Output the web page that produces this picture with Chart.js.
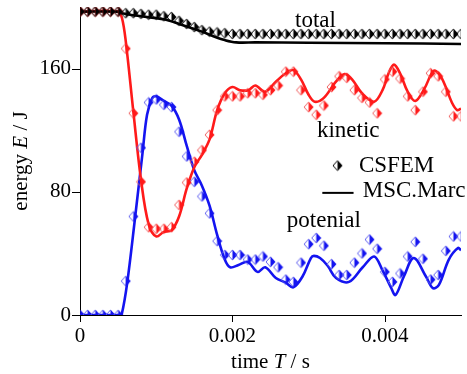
<!DOCTYPE html>
<html><head><meta charset="utf-8">
<script src="https://cdn.jsdelivr.net/npm/chart.js@4/dist/chart.umd.min.js"></script>
<style>html,body{margin:0;padding:0;background:#fff;}#wrap{width:467px;height:374px;position:relative;}</style>
</head><body><div id="wrap"><canvas id="c"></canvas></div>
<script>
// ---- data (time in ms, energy in J) ----
const markerTimeMs = [0,0.1,0.2,0.3,0.4,0.5,0.6,0.7,0.8,0.9,1.0,1.1,1.2,1.3,1.4,1.5,1.6,1.7,1.8,1.9,
  2.0,2.1,2.2,2.3,2.4,2.5,2.6,2.7,2.8,2.9,3.0,3.1,3.2,3.3,3.4,3.5,3.6,3.7,3.8,3.9,
  4.0,4.1,4.2,4.3,4.4,4.5,4.6,4.7,4.8,4.9,5.0];
const kineticCSFEM = [197,197,197,197,197,197,173,131,86.5,57,56,56,57,71.5,86,99.5,107,117,133,142,
  142,142,144,144,143,146,149,158,158,146,135,130,136,148,155,154,146,141,138,131,
  153,158,153.5,142,133,145,157,155,145,129,129];
const potentialCSFEM = [0,0,0,0,0,0,22,64,108.6,138,140,136.5,135,119,103,86.5,77,66,48,39,
  39,39,36,36,38,34.5,31,23,21.5,34,46,50,45,33,26,26,34,40,49,43,
  28,21.5,27,38,47.5,36.5,23,26,41.6,51,51];
const totalCSFEM = [197,197,197,197,197,197,196,196,195.5,195,195,194,193.5,191,189,187,185,184,183.5,183,
  182.5,182.5,182.5,182.5,182.5,182.5,182.5,182.5,182.5,182.5,182.5,182.5,182.5,182.5,182.5,182.5,182.5,182.5,182.5,182.5,
  182.5,182.5,182.5,182.5,182.5,182.5,182.5,182.5,182.5,182.5,182.5];

const kineticMarcTimeMs = [0,0.5,0.55,0.6,0.7,0.8,0.9,1.0,1.1,1.2,1.3,1.4,1.5,1.6,1.7,1.8,1.9,2.0,2.1,2.21,2.3,2.43,2.57,2.7,2.8,2.9,3.0,3.08,3.2,3.35,3.47,3.57,3.7,3.86,3.97,4.05,4.12,4.2,4.3,4.4,4.52,4.64,4.72,4.8,4.88,4.95,5.0];
const kineticMarc = [197,197,193,178,132,88,59,51,54,55,64,82,96,104,114,133,144,148,146,146,149,145,151.5,157,159,153,143,138.5,141,151,156.5,153,144,138.5,146,157,162.6,157,145,139,147,158.5,156,148,138,133,134];

const potentialMarcTimeMs = [0,0.52,0.55,0.62,0.72,0.82,0.88,0.95,1.0,1.1,1.2,1.3,1.4,1.5,1.6,1.7,1.8,1.9,1.97,2.08,2.2,2.33,2.43,2.57,2.7,2.8,2.92,3.03,3.07,3.15,3.25,3.36,3.53,3.71,3.86,3.97,4.08,4.14,4.25,4.38,4.54,4.63,4.71,4.84,4.96,5.0];
const potentialMarc = [0,0,1,21,62,105,130,141,142,139,136,127,110,94,84,71,52,36,31,32.5,34.5,28,31,24,21,18,25,37,38.4,37,32,24,21.5,31,38,29,18,13,25,37,25,17.5,19.5,36,43.5,42];

const totalMarcTimeMs = [0,0.5,0.55,0.8,1.1,1.3,1.6,1.75,1.9,2.05,2.3,3.0,4.0,5.0];
const totalMarc = [197,197,196,194,192,189,184,181,178.5,177,177,176.8,176.5,176];

const yTickLabels = [0,80,160];
const xTickLabels = [0,0.002,0.004];

// ---- helpers ----
const pts = (ts, vs) => ts.map((t,i)=>({x:t/1000, y:vs[i]}));
function makeMarker(fill, outline){
  const c=document.createElement('canvas'); c.width=11; c.height=12;
  const g=c.getContext('2d');
  g.lineWidth=1; g.strokeStyle=outline;
  g.beginPath(); g.moveTo(5.5,1); g.lineTo(1,6); g.lineTo(5.5,11); g.stroke();
  g.fillStyle=fill; g.beginPath(); g.moveTo(5.5,0.5); g.lineTo(10.5,6); g.lineTo(5.5,11.5); g.closePath(); g.fill();
  return c;
}
const RED='#ff1a1a', BLUE='#1414f0', BLACK='#000';
const mRed=makeMarker(RED,'#f06060'), mBlue=makeMarker(BLUE,'#6060f0'), mBlack=makeMarker(BLACK,'#000');

const SERIF='"Liberation Serif","Times New Roman",serif';
Chart.defaults.font.family = SERIF;

const near = (v, arr) => arr.some(a=>Math.abs(a-v)<1e-9);

const axisPlugin = {
  id:'axisDeco',
  afterDraw(chart){
    const ctx=chart.ctx, xs=chart.scales.x, ys=chart.scales.y, ca=chart.chartArea;
    ctx.save();
    ctx.strokeStyle='#000'; ctx.lineWidth=1;
    ys.ticks.forEach(t=>{
      const py=Math.round(ys.getPixelForValue(t.value))+0.5;
      const len=near(t.value,yTickLabels)?8:4.5;
      ctx.beginPath(); ctx.moveTo(ca.left,py); ctx.lineTo(ca.left-len,py); ctx.stroke();
    });
    xs.ticks.forEach(t=>{
      const px=Math.round(xs.getPixelForValue(t.value))+0.5;
      const len=near(t.value,xTickLabels)?7:5;
      ctx.beginPath(); ctx.moveTo(px,ca.bottom); ctx.lineTo(px,ca.bottom+len); ctx.stroke();
    });
    ctx.fillStyle='#000';
    const f=21;
    const parts=[['time ',false],['T',true],[' / s',false]];
    let w=0; parts.forEach(p=>{ctx.font=(p[1]?'italic ':'')+f+'px '+SERIF; w+=ctx.measureText(p[0]).width;});
    let x0=(ca.left+ca.right)/2-w/2; ctx.textBaseline='alphabetic'; ctx.textAlign='left';
    parts.forEach(p=>{ctx.font=(p[1]?'italic ':'')+f+'px '+SERIF; ctx.fillText(p[0],x0,368); x0+=ctx.measureText(p[0]).width;});
    const yparts=[['energy ',false],['E',true],[' / J',false]];
    w=0; yparts.forEach(p=>{ctx.font=(p[1]?'italic ':'')+f+'px '+SERIF; w+=ctx.measureText(p[0]).width;});
    ctx.save(); ctx.translate(27,(ca.top+ca.bottom)/2); ctx.rotate(-Math.PI/2);
    let y0=-w/2;
    yparts.forEach(p=>{ctx.font=(p[1]?'italic ':'')+f+'px '+SERIF; ctx.fillText(p[0],y0,0); y0+=ctx.measureText(p[0]).width;});
    ctx.restore();
    const X=v=>xs.getPixelForValue(v/1000), Y=v=>ys.getPixelForValue(v);
    ctx.font='23px '+SERIF; ctx.textAlign='center';
    ctx.fillText('total',X(3.09),Y(187));
    ctx.fillText('kinetic',X(3.52),Y(115.8));
    ctx.fillText('potenial',X(3.2),Y(57));
    ctx.textAlign='left';
    ctx.drawImage(mBlack, X(3.38)-5.5, Y(97)-6);
    ctx.fillText('CSFEM',X(3.66),Y(93));
    ctx.lineWidth=2; ctx.beginPath(); ctx.moveTo(X(3.18),Y(79.3)); ctx.lineTo(X(3.59),Y(79.3)); ctx.stroke();
    ctx.fillText('MSC.Marc',X(3.71),Y(76.7));
    ctx.restore();
  }
};

const lineDs=(label,data,color)=>({label,data,type:'line',borderColor:color,borderWidth:2.6,pointRadius:0,fill:false,tension:0.35,order:2});
const markDs=(label,data,img)=>({label,data,type:'line',showLine:false,pointStyle:img,pointRadius:5,order:1});

new Chart(document.getElementById('c'),{
  type:'line',
  data:{datasets:[
    markDs('total CSFEM',pts(markerTimeMs,totalCSFEM),mBlack),
    markDs('kinetic CSFEM',pts(markerTimeMs,kineticCSFEM),mRed),
    markDs('potential CSFEM',pts(markerTimeMs,potentialCSFEM),mBlue),
    lineDs('total MSC.Marc',pts(totalMarcTimeMs,totalMarc),BLACK),
    lineDs('kinetic MSC.Marc',pts(kineticMarcTimeMs,kineticMarc),RED),
    lineDs('potential MSC.Marc',pts(potentialMarcTimeMs,potentialMarc),BLUE)
  ]},
  options:{
    responsive:true, maintainAspectRatio:false, animation:false,
    layout:{padding:{top:7,right:6,left:0,bottom:0}},
    plugins:{legend:{display:false},tooltip:{enabled:false}},
    scales:{
      x:{type:'linear',min:0,max:0.005,
         afterFit:s=>{s.height=59;s.paddingLeft=0;s.paddingRight=0;s.paddingTop=0;s.paddingBottom=0;},
         grid:{display:false,drawTicks:false},
         border:{display:true,color:'#000',width:1},
         ticks:{stepSize:0.0005,padding:9,color:'#000',font:{size:21,family:SERIF},maxRotation:0,autoSkip:false,
           callback:v=>near(v,xTickLabels)?(Math.abs(v)<1e-12?'0':String(+v.toFixed(4))):null}},
      y:{type:'linear',min:0,max:200,
         afterFit:s=>{s.width=80;s.paddingTop=0;s.paddingBottom=0;s.paddingLeft=0;s.paddingRight=0;},
         grid:{display:false,drawTicks:false},
         border:{display:true,color:'#000',width:1},
         ticks:{stepSize:20,padding:9,color:'#000',font:{size:21,family:SERIF},autoSkip:false,
           callback:v=>near(v,yTickLabels)?String(v):null}}
    }
  },
  plugins:[axisPlugin]
});
</script></body></html>
